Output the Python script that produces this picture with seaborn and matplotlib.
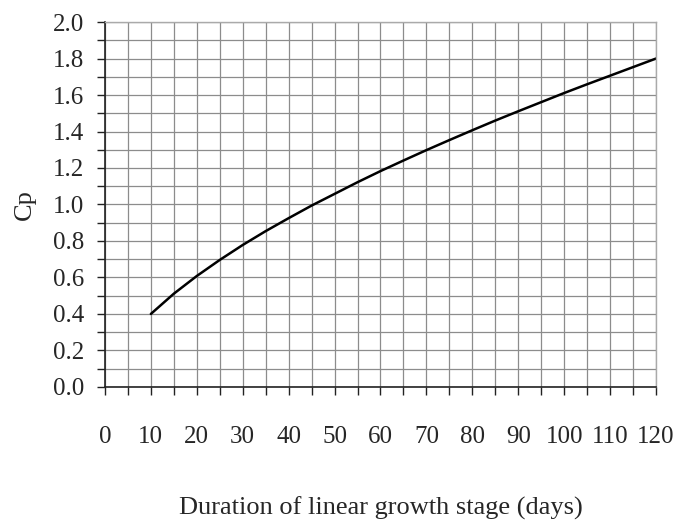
import matplotlib
matplotlib.use("Agg")
import matplotlib.pyplot as plt
import numpy as np
import pandas as pd
import seaborn as sns
from matplotlib.ticker import MultipleLocator

# Cp versus duration of linear growth stage
days = [10, 15, 20, 25, 30, 35, 40, 45, 50, 55, 60, 65,
        70, 75, 80, 85, 90, 95, 100, 105, 110, 115, 120]
cp = [0.400, 0.511, 0.608, 0.696, 0.778, 0.854, 0.925, 0.994, 1.058, 1.122,
      1.183, 1.241, 1.298, 1.353, 1.407, 1.460, 1.511, 1.561, 1.611, 1.659,
      1.706, 1.753, 1.800]

xlabel = "Duration of linear growth stage (days)"
ylabel = "Cp"

sns.set_theme(style="white")
plt.rcParams["font.family"] = ["Liberation Serif", "DejaVu Serif"]

df = pd.DataFrame({"days": days, "cp": cp})

fig = plt.figure(figsize=(6.77, 5.25), dpi=100)
ax = fig.add_axes([0.155, 0.263, 0.814, 0.695])

sns.lineplot(data=df, x="days", y="cp", color="black", linewidth=1.8, ax=ax)

ax.set_xlim(0, 120)
ax.set_ylim(0, 2.0)
ax.xaxis.set_major_locator(MultipleLocator(10))
ax.xaxis.set_minor_locator(MultipleLocator(5))
ax.yaxis.set_major_locator(MultipleLocator(0.2))
ax.yaxis.set_minor_locator(MultipleLocator(0.1))
ax.yaxis.set_major_formatter(plt.FuncFormatter(lambda v, _: f"{v:.1f}"))

ax.grid(True, which="both", color="#8c8c8c", linewidth=0.9)
ax.set_axisbelow(True)

for s in ["left", "bottom"]:
    ax.spines[s].set_color("#222222")
    ax.spines[s].set_linewidth(1.2)
for s in ["top", "right"]:
    ax.spines[s].set_color("#aaaaaa")
    ax.spines[s].set_linewidth(1.0)

ax.tick_params(axis="both", which="both", direction="out", length=6,
               width=1.0, color="#222222", bottom=True, left=True)
ax.tick_params(axis="x", which="major", labelsize=18, pad=22)
ax.tick_params(axis="y", which="major", labelsize=18, pad=9)

ax.set_xlabel(xlabel, fontsize=19, labelpad=35)
ax.set_ylabel(ylabel, fontsize=19, labelpad=12)

fig.savefig("out.png", dpi=100)
